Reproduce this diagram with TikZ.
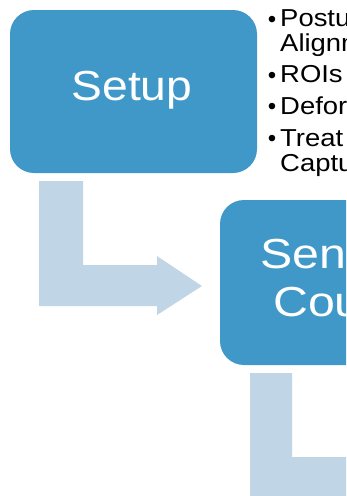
\documentclass[tikz,border=0pt]{standalone}
\usepackage{fontspec}
\setmainfont{Liberation Sans}
\definecolor{boxblue}{HTML}{3F98C8}
\definecolor{arrowblue}{HTML}{C0D5E6}
\newcommand{\wideA}[1]{\scalebox{1.10}[1.0]{#1}}
\newcommand{\wideB}[1]{\scalebox{1.15}[1.0]{#1}}
\newcommand{\wideC}[1]{\scalebox{1.12}[1.0]{#1}}
\tikzset{
  mainbox/.style={fill=boxblue, draw=none, rounded corners=24pt},
  bentarrow/.style={fill=arrowblue, draw=none},
  boxtext/.style={text=white, inner sep=0pt, font=\fontsize{42}{42}\selectfont},
  bultext/.style={text=black, inner sep=0pt, anchor=base west, font=\fontsize{24.5}{24.5}\selectfont},
  bulmark/.style={text=black, inner sep=0pt, anchor=base, font=\fontsize{24}{24}\selectfont}
}
\begin{document}
\begin{tikzpicture}[x=1pt,y=-1pt]
\useasboundingbox (0,0) rectangle (346,496);
\clip (0,0) rectangle (346,496);
% boxes
\draw[mainbox] (10,10) rectangle (257,173);
\node[boxtext, anchor=base] (setup) at (132,100) {\wideA{Setup}};
\draw[mainbox] (220,200) rectangle (390,365);
\node[boxtext, anchor=base west] (sen) at (260,268) {\wideB{Sen}};
\node[boxtext, anchor=base west] (cou) at (273,316.5) {\wideB{Cou}};
% arrows
\fill[bentarrow] (39,181) -- (83,181) -- (83,265) -- (157,265) -- (157,256) -- (202,286) -- (157,315) -- (157,306) -- (39,306) -- cycle;
\fill[bentarrow] (250,373) -- (292,373) -- (292,457) -- (360,457) -- (360,510) -- (250,510) -- cycle;
% bullets
\node[bulmark] (b1) at (272,27) {\textbullet};
\node[bulmark] (b2) at (272,83) {\textbullet};
\node[bulmark] (b3) at (272,114.5) {\textbullet};
\node[bulmark] (b4) at (272,146.5) {\textbullet};
\node[bultext] (t1) at (280,26.5) {\wideC{Postu}};
\node[bultext] (t2) at (280,51) {\wideC{Alignm}};
\node[bultext] (t3) at (280,82.5) {\wideC{ROIs}};
\node[bultext] (t4) at (280,114) {\wideC{Defor}};
\node[bultext] (t5) at (280,146) {\wideC{Treat}};
\node[bultext] (t6) at (280,171) {\wideC{Captu}};
\end{tikzpicture}
\end{document}
